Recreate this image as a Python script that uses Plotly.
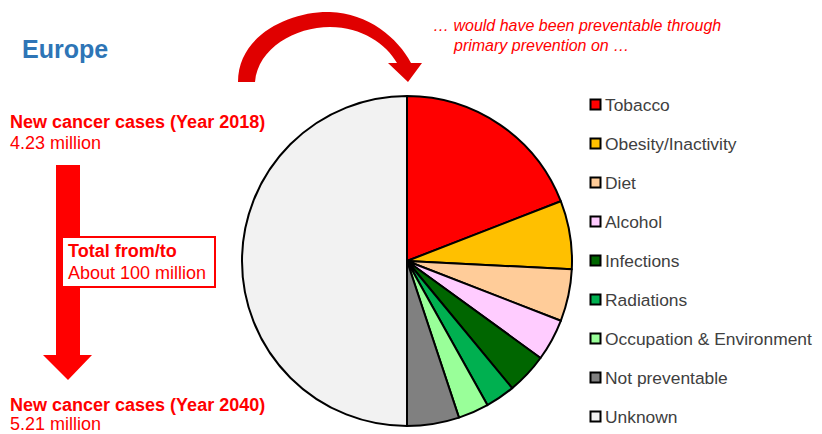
import plotly.graph_objects as go

# ---- data ----
labels = ["Tobacco", "Obesity/Inactivity", "Diet", "Alcohol", "Infections",
          "Radiations", "Occupation & Environment", "Not preventable", "Unknown"]
shares = [19.1, 6.7, 5.1, 4.1, 4.0, 2.9, 3.0, 5.1, 50.0]
colors = ["#FF0000", "#FFC000", "#FFCC99", "#FFCCFF", "#006600",
          "#00B050", "#99FF99", "#808080", "#F2F2F2"]

# page body has an 8px margin: the figure is drawn 8px in from the window corner
PAGE_W, PAGE_H, OFF = 822, 434, 8
W, H = PAGE_W - OFF, PAGE_H - OFF
FONT = "Arial, Liberation Sans, sans-serif"
RED = "#FF0000"

fig = go.Figure()

# pie (center/radius in window pixels)
cx, cy, r = 407, 261, 165
fig.add_trace(go.Pie(
    labels=labels, values=shares, sort=False, direction="clockwise", rotation=0,
    marker=dict(colors=colors, line=dict(color="black", width=2)),
    textinfo="none", hoverinfo="label+percent", showlegend=False,
    domain=dict(x=[(cx - r - OFF) / W, (cx + r - OFF) / W],
                y=[1 - (cy + r - OFF) / H, 1 - (cy - r - OFF) / H]),
))

# invisible axes in window-pixel coordinates for decorations
fig.add_trace(go.Scatter(x=[None], y=[None], mode="markers", showlegend=False, hoverinfo="skip"))

shapes = []
annotations = []

# manual legend
LEG_X0, LEG_Y0, LEG_STEP, SQ = 590.5, 104.5, 39, 10
for i, (lab, col) in enumerate(zip(labels, colors)):
    yc = LEG_Y0 + i * LEG_STEP
    shapes.append(dict(type="rect", xref="x", yref="y",
                       x0=LEG_X0, x1=LEG_X0 + SQ, y0=yc - SQ / 2, y1=yc + SQ / 2,
                       fillcolor=col, line=dict(color="black", width=2)))
    annotations.append(dict(x=LEG_X0 + SQ + 2, y=yc, xref="x", yref="y", text=lab,
                            showarrow=False, xanchor="left", yanchor="middle",
                            font=dict(family=FONT, size=17.4, color="#404040")))

# down arrow (left)
shapes.append(dict(type="path", xref="x", yref="y",
                   path="M 56 165 L 80 165 L 80 355 L 92 355 L 68 380 L 43 355 L 56 355 Z",
                   fillcolor=RED, line=dict(width=0)))
# box
shapes.append(dict(type="rect", xref="x", yref="y", x0=62, x1=215, y0=237, y1=287,
                   fillcolor="white", line=dict(color=RED, width=2)))
# curved arrow (top)
shapes.append(dict(type="path", xref="x", yref="y",
                   path=("M 238 82 C 238 35, 290 11, 330 12 C 368 13, 398 38, 411 63 "
                         "L 422 63 L 408 82 L 388 63 L 397 63 "
                         "C 386 44, 362 27, 330 27 C 295 27, 258 48, 255 82 Z"),
                   fillcolor="#E00000", line=dict(width=0)))

def txt(x, y, s, size=18, color=RED):
    annotations.append(dict(x=x, y=y, xref="x", yref="y", text=s, showarrow=False,
                            xanchor="left", yanchor="middle",
                            font=dict(family=FONT, size=size, color=color)))

txt(20, 49, "<b>Europe</b>", size=25, color="#2E75B6")
txt(8, 122, "<b>New cancer cases (Year 2018)</b>")
txt(8, 143, "4.23 million")
txt(66, 251, "<b>Total from/to</b>")
txt(66, 273, "About 100 million")
txt(8, 405, "<b>New cancer cases (Year 2040)</b>")
txt(8, 424, "5.21 million")
txt(431, 25, "<i>… would have been preventable through</i>", size=16)
txt(451, 45, "<i>primary prevention on …</i>", size=16)

fig.update_layout(
    width=W, height=H, margin=dict(l=0, r=0, t=0, b=0),
    paper_bgcolor="white", plot_bgcolor="rgba(0,0,0,0)",
    xaxis=dict(range=[OFF, PAGE_W], visible=False, fixedrange=True, domain=[0, 1]),
    yaxis=dict(range=[PAGE_H, OFF], visible=False, fixedrange=True, domain=[0, 1]),
    shapes=shapes, annotations=annotations, showlegend=False,
)

fig.write_html("out.html")
